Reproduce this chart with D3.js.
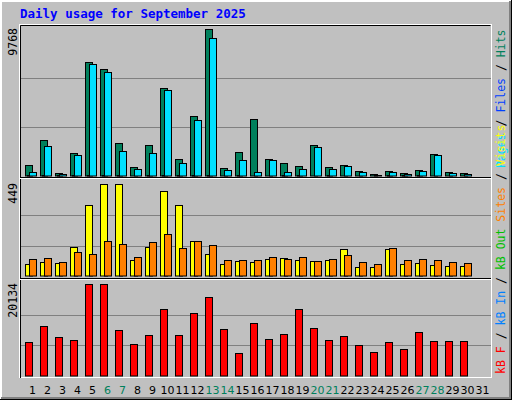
<!DOCTYPE html>
<html><head><meta charset="utf-8">
<script src="https://cdn.jsdelivr.net/npm/d3@7"></script>
<style>body{margin:0;background:#fff}svg{display:block}</style>
</head><body><svg id="c" width="512" height="400"></svg>
<script>
const days = d3.range(1, 32);
const weekend = [6,7,13,14,20,21,27,28];
const hits  = [753,2413,221,1550,7593,7128,2214,620,2081,5866,1151,4007,9768,553,1616,3808,1151,885,686,2081,620,753,354,155,354,221,420,1483,288,221];
const files = [288,1971,155,1417,7460,6929,1683,487,1550,5733,885,3741,9188,420,1085,288,1085,288,487,1949,487,686,288,88,288,155,354,1417,221,155];
const pages = [40,40,40,40,40,40,60,20,40,40,40,40,40,20,40,20,20,40,40,20,40,20,20,10,40,40,40,20,20,20];
const visits = [59,68,63,142,347,449,449,78,142,415,347,171,107,59,73,68,83,88,78,73,78,132,44,44,132,59,63,54,49,49];
const sites  = [83,88,68,117,107,171,156,93,166,205,137,171,151,78,78,78,93,83,93,73,83,102,68,59,137,78,83,78,68,63];
const kbytes = [7348,10875,8450,7789,20134,20134,9994,6907,8891,14623,8891,13741,17268,10214,4923,11537,8010,9112,14623,10434,7789,8671,6687,5144,7348,5805,9553,7569,7569,7569];
const maxHits = 9768, maxVisits = 449, maxKB = 20134;

const svg = d3.select("#c");
const font = "'DejaVu Sans Mono', 'Liberation Mono', monospace";
// background & bevel
svg.append("rect").attr("width",512).attr("height",400).attr("fill","#c0c0c0");
svg.append("path").attr("d","M1,399V1H511").attr("stroke","#fff").attr("stroke-width",2).attr("fill","none");
svg.append("path").attr("d","M1,398H510V1").attr("stroke","#808080").attr("stroke-width",2).attr("fill","none");
svg.append("path").attr("d","M0,399.5H512M511.5,0V400").attr("stroke","#000").attr("fill","none");

svg.append("text").attr("x",20).attr("y",18).attr("fill","#0000ff").attr("font-family",font)
  .attr("font-weight","bold").attr("font-size",12.5).text("Daily usage for September 2025");

const x = d3.scaleBand().domain(days).range([21,486]).paddingInner(0);
const L=20, R=491;
const panels = [
  {top:25, base:176, max:maxHits, label:"9768"},
  {top:180, base:276, max:maxVisits, label:"449"},
  {top:280, base:376, max:maxKB, label:"20134"}
];
panels.forEach(p=>{
  p.y = d3.scaleLinear().domain([0,p.max]).range([p.base, p.base-147*(p.base-p.top)/151]);
});
panels[1].y = d3.scaleLinear().domain([0,maxVisits]).range([276.3,184.3]);
panels[2].y = d3.scaleLinear().domain([0,maxKB]).range([375.7,284]);
panels[0].y = d3.scaleLinear().domain([0,maxHits]).range([176,29]);

// frame
svg.append("rect").attr("x",L-0.5).attr("y",24.5).attr("width",R-L+1).attr("height",353)
  .attr("fill","none").attr("stroke","#fff").attr("stroke-width",1);
svg.append("path").attr("d",`M${L+0.5},378V25.5H${R-0.5}`).attr("stroke","#000").attr("fill","none");
[177.5,278.5].forEach(yy=>{
  svg.append("line").attr("x1",L).attr("x2",R).attr("y1",yy).attr("y2",yy).attr("stroke","#000");
  svg.append("line").attr("x1",L).attr("x2",R).attr("y1",yy+1).attr("y2",yy+1).attr("stroke","#fff");
});

panels.forEach(p=>{
  [1/3,2/3].forEach(f=>{
    const yy = Math.round(p.y(p.max*f))+0.5;
    svg.append("line").attr("x1",L+1).attr("x2",R).attr("y1",yy).attr("y2",yy).attr("stroke","#808080");
  });
  svg.append("text").attr("transform",`translate(17,${p.top+3}) rotate(-90)`).attr("text-anchor","end")
    .attr("font-family",font).attr("font-size",11.5).attr("fill","#000").text(p.label);
});

function bars(data, panel, dx, w, color){
  svg.append("g").selectAll("rect").data(data).join("rect")
    .attr("x",(d,i)=>x(days[i])+dx+0.5).attr("width",w)
    .attr("y",d=>Math.round(panel.y(d))+0.5).attr("height",d=>Math.max(0,panel.base-Math.round(panel.y(d))-0.5))
    .attr("fill",color).attr("stroke","#000").attr("stroke-width",1);
}
bars(hits, panels[0], 4, 7, "#00805c");
bars(files, panels[0], 8, 7, "#00e0ff");
bars(pages, panels[0], 6, 2, "#0000ff");
bars(visits, panels[1], 4, 7, "#ffff00");
bars(sites, panels[1], 8, 7, "#ff8000");
bars(kbytes, panels[2], 4, 7, "#ff0000");

// x labels
svg.append("g").selectAll("text").data(days).join("text")
  .attr("x",d=>x(d)+x.bandwidth()/2+4).attr("y",394).attr("text-anchor","middle")
  .attr("font-family","'DejaVu Sans', sans-serif").attr("font-size",11)
  .attr("fill",d=>weekend.includes(d)?"#00805c":"#000").text(d=>d);

// right legends
function legend(parts, yEnd){
  const t = svg.append("text").attr("transform",`translate(505,${yEnd}) rotate(-90)`)
    .attr("font-family",font).attr("font-size",11.5);
  parts.forEach(([s,c])=>t.append("tspan").attr("fill",c).text(s));
}
legend([["Pages","#00e0ff"],[" / ","#000"],["Files","#0040ff"],[" / ","#000"],["Hits","#00805c"]],168);
legend([["kB F","#ff0000"],[" / ","#000"],["kB In","#0080ff"],[" / ","#000"],["kB Out","#00c000"],[" ","#000"],["Sites","#ff8000"],[" / ","#000"],["Visits","#ffff00"]],374);
</script></body></html>
